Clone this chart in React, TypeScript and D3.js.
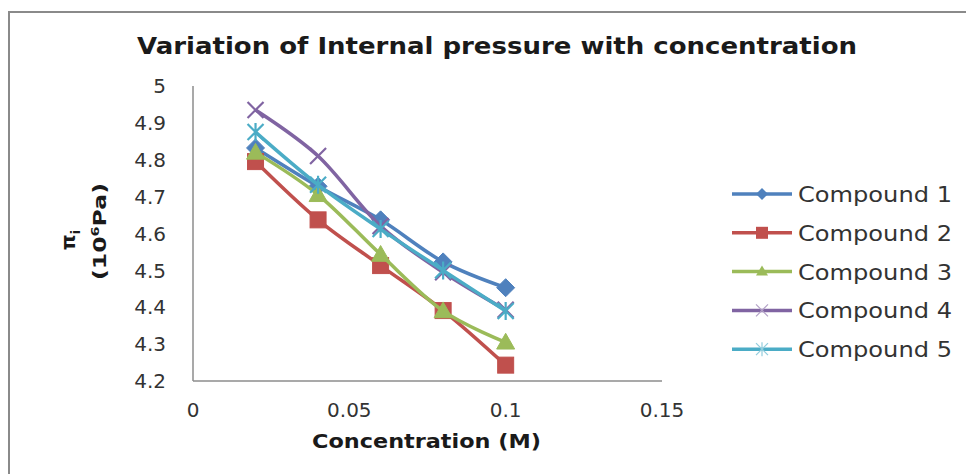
import React from "react";
import * as d3 from "d3";

// Concentration (M) and internal pressure πi (10^6 Pa) for each compound
const concentrations = [0.02, 0.04, 0.06, 0.08, 0.1];
const compound1 = [4.832, 4.728, 4.637, 4.523, 4.453];
const compound2 = [4.795, 4.637, 4.513, 4.391, 4.243];
const compound3 = [4.82, 4.705, 4.543, 4.39, 4.305];
const compound4 = [4.935, 4.81, 4.62, 4.495, 4.393];
const compound5 = [4.875, 4.732, 4.612, 4.5, 4.39];

const seriesNames = ["Compound 1", "Compound 2", "Compound 3", "Compound 4", "Compound 5"];
const seriesValues = [compound1, compound2, compound3, compound4, compound5];
const seriesColors = ["#4F81BD", "#C0504D", "#9BBB59", "#8064A2", "#4BACC6"];
const markerKinds = ["diamond", "square", "triangle", "x", "star"];

const yTicks = [4.2, 4.3, 4.4, 4.5, 4.6, 4.7, 4.8, 4.9, 5];
const xTicks = [0, 0.05, 0.1, 0.15];

const W = 966;
const H = 474;
const plot = { left: 193, right: 662, top: 86, bottom: 381 };
const FONT = "'DejaVu Sans', Verdana, sans-serif";

function Marker({ kind, x, y, color }: { kind: string; x: number; y: number; color: string }) {
  if (kind === "diamond") {
    const s = 9;
    return <path d={`M${x},${y - s}L${x + s},${y}L${x},${y + s}L${x - s},${y}Z`} fill={color} stroke={color} strokeWidth={1} />;
  }
  if (kind === "square") {
    const s = 8;
    return <rect x={x - s} y={y - s} width={2 * s} height={2 * s} fill={color} stroke={color} strokeWidth={1} />;
  }
  if (kind === "triangle") {
    const s = 9;
    return <path d={`M${x},${y - s}L${x + s},${y + s * 0.75}L${x - s},${y + s * 0.75}Z`} fill={color} stroke={color} strokeWidth={1} />;
  }
  if (kind === "x") {
    const s = 8;
    return <path d={`M${x - s},${y - s}L${x + s},${y + s}M${x - s},${y + s}L${x + s},${y - s}`} stroke={color} strokeWidth={2.2} fill="none" />;
  }
  const s = 8;
  return (
    <path
      d={`M${x - s},${y - s}L${x + s},${y + s}M${x - s},${y + s}L${x + s},${y - s}M${x},${y - s - 1}L${x},${y + s + 1}`}
      stroke={color}
      strokeWidth={2.2}
      fill="none"
    />
  );
}

function LegendMarker({ kind, x, y, color }: { kind: string; x: number; y: number; color: string }) {
  if (kind === "diamond") {
    const s = 6;
    return <path d={`M${x},${y - s}L${x + s},${y}L${x},${y + s}L${x - s},${y}Z`} fill={color} />;
  }
  if (kind === "square") {
    return <rect x={x - 6} y={y - 6} width={12} height={12} fill={color} />;
  }
  if (kind === "triangle") {
    return <path d={`M${x},${y - 6}L${x + 6},${y + 4}L${x - 6},${y + 4}Z`} fill={color} />;
  }
  if (kind === "x") {
    const s = 6;
    return <path d={`M${x - s},${y - s}L${x + s},${y + s}M${x - s},${y + s}L${x + s},${y - s}`} stroke="#B3A2C7" strokeWidth={1.2} fill="none" />;
  }
  const s = 6;
  return (
    <path
      d={`M${x - s},${y - s}L${x + s},${y + s}M${x - s},${y + s}L${x + s},${y - s}M${x},${y - s - 1}L${x},${y + s + 1}`}
      stroke="#93CDDD"
      strokeWidth={1.2}
      fill="none"
    />
  );
}

export default function App() {
  const x = d3.scaleLinear().domain([0, 0.15]).range([plot.left, plot.right]);
  const y = d3.scaleLinear().domain([4.2, 5]).range([plot.bottom, plot.top]);
  const line = d3
    .line<number>()
    .x((_, i) => x(concentrations[i]))
    .y((d) => y(d))
    .curve(d3.curveCatmullRom.alpha(0));

  return (
    <svg width={W} height={H} style={{ position: "absolute", left: 0, top: 0, background: "#fff" }}>
      <rect x={0} y={0} width={W} height={H} fill="#fff" />
      {/* chart frame */}
      <path d={`M9,${H + 5}L9,12L${W + 5},12`} fill="none" stroke="#8A8A8A" strokeWidth={2} />

      <text
        x={137}
        y={54}
        textLength={720}
        lengthAdjust="spacingAndGlyphs"
        fontFamily={FONT}
        fontWeight="bold"
        fontSize={23}
        fill="#1a1a1a"
      >
        Variation of Internal pressure with concentration
      </text>

      {/* axes */}
      <line x1={plot.left} y1={plot.top} x2={plot.left} y2={plot.bottom} stroke="#8C8C8C" strokeWidth={1.5} />
      <line x1={plot.left} y1={plot.bottom} x2={plot.right} y2={plot.bottom} stroke="#8C8C8C" strokeWidth={1.5} />

      {yTicks.map((t) => (
        <text key={t} x={166} y={y(t)} dy="0.36em" textAnchor="end" fontFamily={FONT} fontSize={20} fill="#333">
          {d3.format("~g")(t)}
        </text>
      ))}
      {xTicks.map((t) => (
        <text key={t} x={x(t)} y={410} dy="0.36em" textAnchor="middle" fontFamily={FONT} fontSize={20} fill="#333">
          {d3.format("~g")(t)}
        </text>
      ))}

      <text
        x={312}
        y={441}
        dy="0.36em"
        textLength={229}
        lengthAdjust="spacingAndGlyphs"
        fontFamily={FONT}
        fontWeight="bold"
        fontSize={19}
        fill="#1a1a1a"
      >
        Concentration (M)
      </text>

      {/* y-axis title */}
      <g transform="translate(75,240) rotate(-90)">
        <text textAnchor="middle" fontFamily={FONT} fontWeight="bold" fontSize={20} fill="#1a1a1a">
          π<tspan fontSize={13} dy={5}>i</tspan>
        </text>
      </g>
      <g transform="translate(106,232) rotate(-90)">
        <text
          x={-48}
          textLength={97}
          lengthAdjust="spacingAndGlyphs"
          fontFamily={FONT}
          fontWeight="bold"
          fontSize={18}
          fill="#1a1a1a"
        >
          (10<tspan fontSize={11} dy={-7}>6</tspan>
          <tspan dy={7}>Pa)</tspan>
        </text>
      </g>

      {/* series */}
      {seriesValues.map((vals, si) => (
        <g key={seriesNames[si]}>
          <path d={line(vals) ?? ""} fill="none" stroke={seriesColors[si]} strokeWidth={3.5} strokeLinejoin="round" />
          {vals.map((v, i) => (
            <Marker key={i} kind={markerKinds[si]} x={x(concentrations[i])} y={y(v)} color={seriesColors[si]} />
          ))}
        </g>
      ))}

      {/* legend */}
      {seriesNames.map((name, i) => {
        const ly = 194 + i * 38.8;
        return (
          <g key={name}>
            <line x1={732} x2={792} y1={ly} y2={ly} stroke={seriesColors[i]} strokeWidth={3.5} />
            <LegendMarker kind={markerKinds[i]} x={762} y={ly} color={seriesColors[i]} />
            <text
              x={798}
              y={ly}
              dy="0.36em"
              textLength={154}
              lengthAdjust="spacingAndGlyphs"
              fontFamily={FONT}
              fontSize={22}
              fill="#333"
            >
              {name}
            </text>
          </g>
        );
      })}
    </svg>
  );
}
